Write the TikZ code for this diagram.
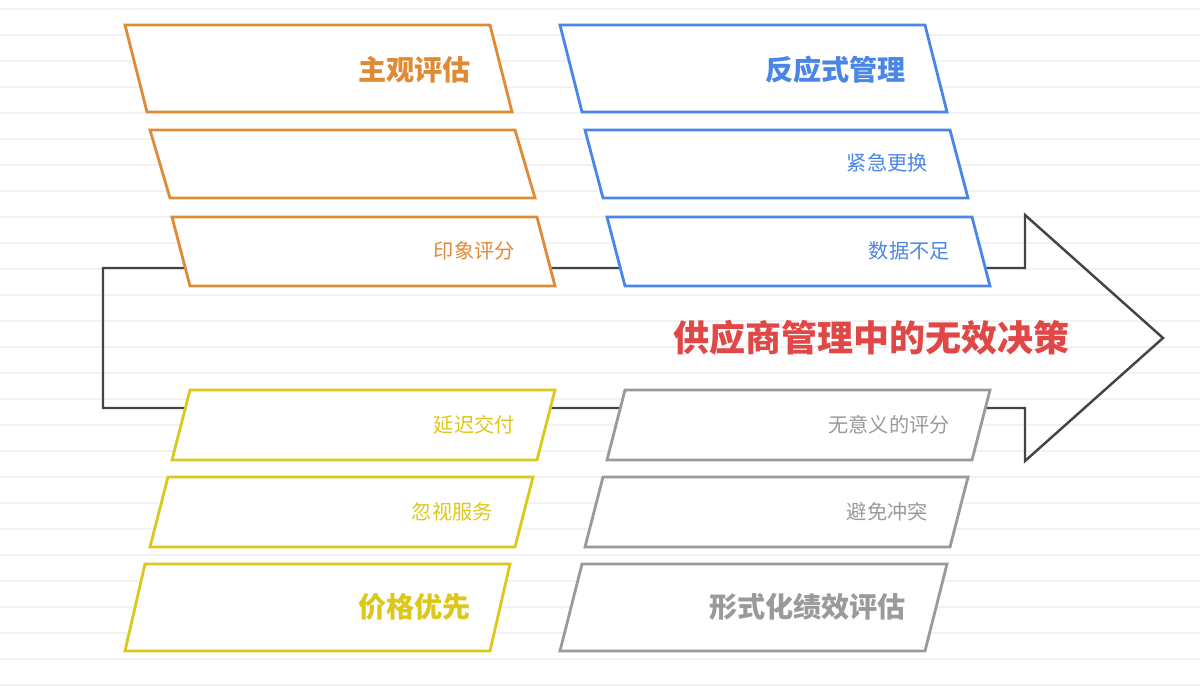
\documentclass[tikz,border=0pt]{standalone}
\usepackage{fontspec}
\setmainfont{Noto Sans CJK SC}
\usepackage{tikz}
\usetikzlibrary{positioning,calc}
\definecolor{fishorange}{HTML}{E08A35}
\definecolor{fishblue}{HTML}{4A86E8}
\definecolor{fishyellow}{HTML}{DCC81A}
\definecolor{fishgray}{HTML}{9A9A9A}
\definecolor{fishred}{HTML}{E04848}
\definecolor{spine}{HTML}{444444}
% #1 colour, #2 name, #3 top-left x, #4 top y, #5 bottom-left x, #6 bottom y, #7 width
\newcommand{\slantbox}[7]{%
  \draw[bone, draw=#1] (#3,#4) -- ++(#7,0) -- (#5+#7,#6) -- (#5,#6) -- cycle;
  \coordinate (#2) at ({(#3+#5)/2+#7},{(#4+#6)/2});}
\begin{document}
\begin{tikzpicture}
  [
    x=0.02cm, y=-0.02cm,
    bone/.style={line width=1.6pt, fill=white, line join=miter},
    big/.style={font=\bfseries\fontsize{16}{19}\selectfont, anchor=east},
    small/.style={font=\fontsize{11.5}{14}\selectfont, anchor=east}
  ]
  \useasboundingbox (0,0) rectangle (1200,686);
  % background lines
  \foreach \y in {9,35,...,686}
    \draw[black!5, line width=0.6pt] (0,\y) -- (1200,\y);
  % spine arrow
  \draw[spine, line width=1.4pt, line join=miter]
    (103,268) -- (1025,268) -- (1025,215) -- (1163,338) -- (1025,461)
    -- (1025,408) -- (103,408) -- cycle;
  \node[font=\bfseries\fontsize{20.5}{24}\selectfont, text=fishred, anchor=east]
    (head) at (1076,338) {供应商管理中的无效决策};
  % upper bones
  \slantbox{fishorange}{o1}{125}{25}{147}{112}{365}
  \slantbox{fishorange}{o2}{150}{130}{170}{198}{365}
  \slantbox{fishorange}{o3}{172}{217}{190}{286}{365}
  \slantbox{fishblue}{b1}{560}{25}{582}{112}{365}
  \slantbox{fishblue}{b2}{585}{130}{603}{198}{365}
  \slantbox{fishblue}{b3}{607}{217}{625}{286}{365}
  % lower bones
  \slantbox{fishyellow}{y1}{190}{390}{172}{460}{365}
  \slantbox{fishyellow}{y2}{168}{477}{150}{547}{365}
  \slantbox{fishyellow}{y3}{145}{564}{125}{651}{365}
  \slantbox{fishgray}{g1}{625}{390}{607}{460}{365}
  \slantbox{fishgray}{g2}{603}{477}{585}{547}{365}
  \slantbox{fishgray}{g3}{582}{564}{560}{651}{365}
  % labels
  \node[big, text=fishorange] (o1t) at (477,70) {主观评估};
  \node[small, text=fishorange] (o3t) at (521,251) {印象评分};
  \node[big, text=fishblue] (b1t) at (912,70) {反应式管理};
  \node[small, text=fishblue] (b2t) at (934,163) {紧急更换};
  \node[small, text=fishblue] (b3t) at (956,251) {数据不足};
  \node[small, text=fishyellow] (y1t) at (521,425) {延迟交付};
  \node[small, text=fishyellow] (y2t) at (499,512) {忽视服务};
  \node[big, text=fishyellow] (y3t) at (477,607) {价格优先};
  \node[small, text=fishgray] (g1t) at (956,425) {无意义的评分};
  \node[small, text=fishgray] (g2t) at (934,512) {避免冲突};
  \node[big, text=fishgray] (g3t) at (912,607) {形式化绩效评估};
\end{tikzpicture}
\end{document}
